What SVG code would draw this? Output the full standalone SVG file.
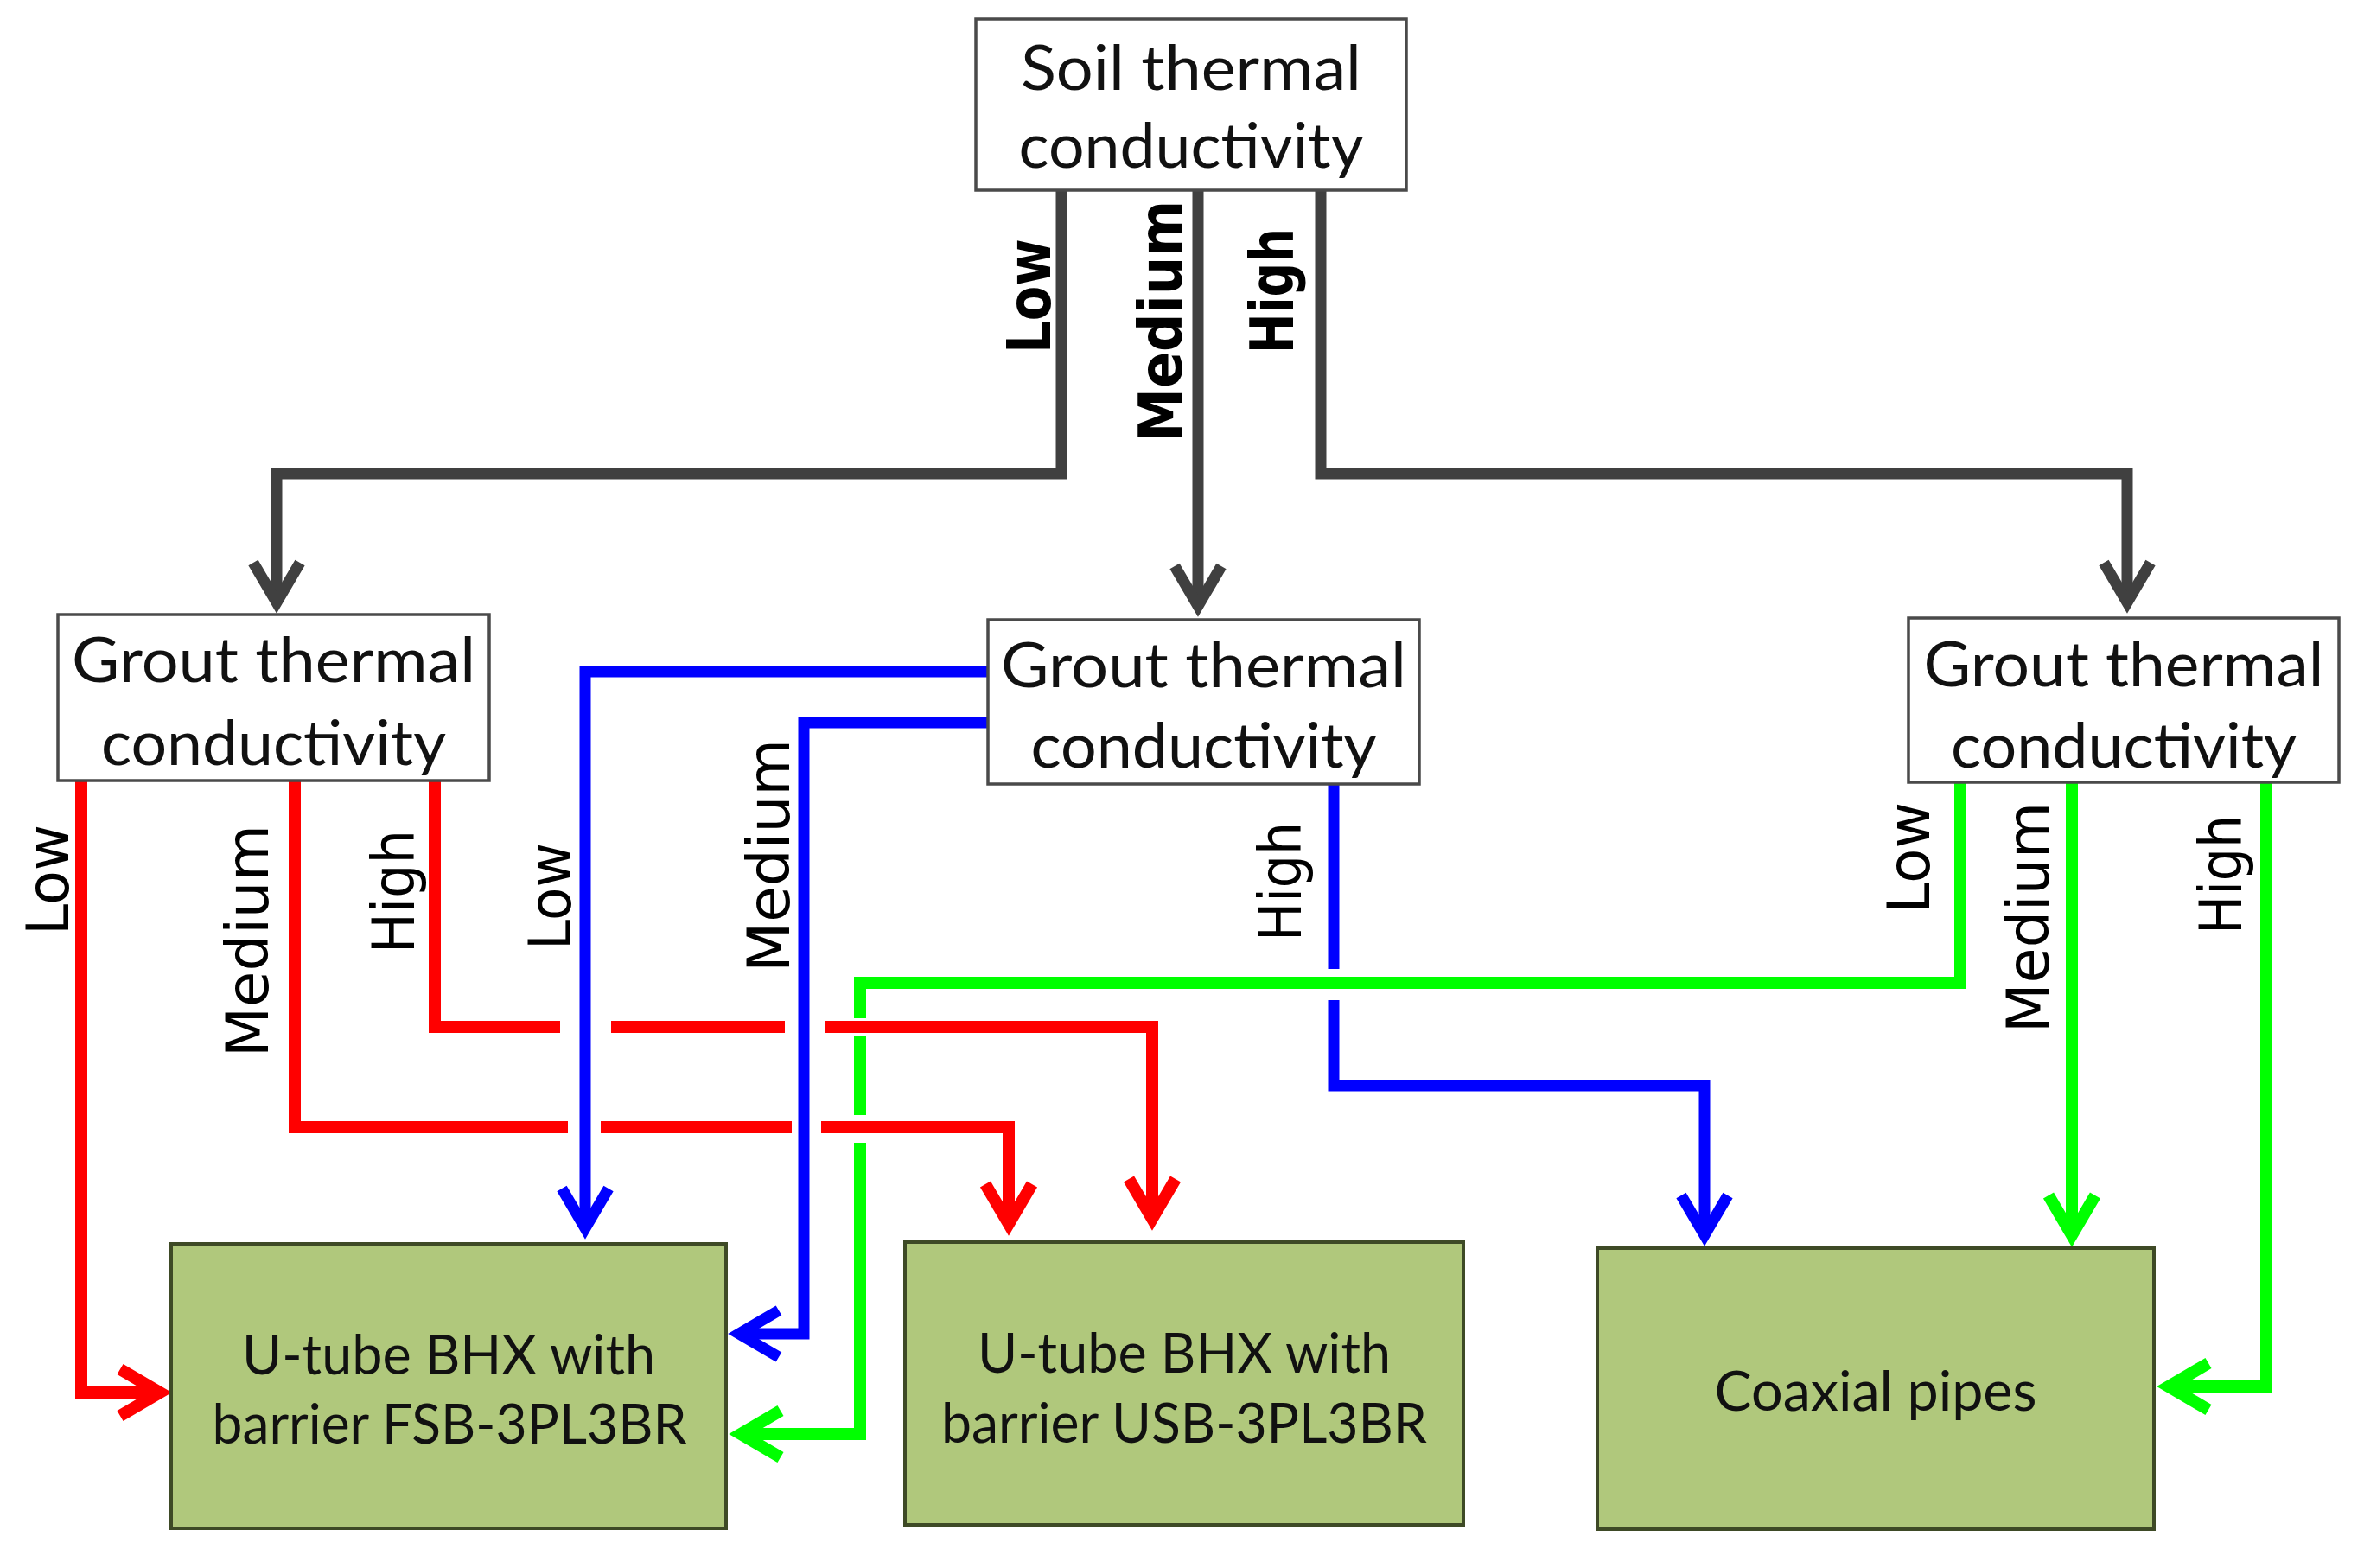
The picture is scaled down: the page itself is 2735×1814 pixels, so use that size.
<svg xmlns="http://www.w3.org/2000/svg" width="2735" height="1814" viewBox="0 0 2735 1814">
<style>
.box{fill:#ffffff;stroke:#4a4a4a;stroke-width:3.5}
.res{fill:#b0c87c;stroke:#3e4a26;stroke-width:4}
.bt{font-family:Lato,"Liberation Sans",sans-serif;font-size:72px;fill:#111;text-anchor:middle}
.rt{font-family:Lato,"Liberation Sans",sans-serif;font-size:64px;fill:#111;text-anchor:middle}
.lb{font-family:"DejaVu Sans","Liberation Sans",sans-serif;font-size:70px;font-weight:bold;fill:#000}
.lr{font-family:"DejaVu Sans","Liberation Sans",sans-serif;font-size:68px;fill:#000}
.c{fill:none;stroke-linejoin:miter;stroke-linecap:butt}
.gy{stroke:#404040;stroke-width:13}
.rd{stroke:#ff0000;stroke-width:14}
.bl{stroke:#0000ff;stroke-width:13}
.gn{stroke:#00ff00;stroke-width:14}
</style>
<defs>
<marker id="aGy" markerUnits="userSpaceOnUse" markerWidth="100" markerHeight="100" refX="0" refY="0" orient="auto" overflow="visible"><path d="M-46,-27 L0,0 L-46,27" fill="none" stroke="#404040" stroke-width="13"/></marker>
<marker id="aRd" markerUnits="userSpaceOnUse" markerWidth="100" markerHeight="100" refX="0" refY="0" orient="auto" overflow="visible"><path d="M-46,-27 L0,0 L-46,27" fill="none" stroke="#ff0000" stroke-width="14"/></marker>
<marker id="aBl" markerUnits="userSpaceOnUse" markerWidth="100" markerHeight="100" refX="0" refY="0" orient="auto" overflow="visible"><path d="M-46,-27 L0,0 L-46,27" fill="none" stroke="#0000ff" stroke-width="13"/></marker>
<marker id="aGn" markerUnits="userSpaceOnUse" markerWidth="100" markerHeight="100" refX="0" refY="0" orient="auto" overflow="visible"><path d="M-46,-27 L0,0 L-46,27" fill="none" stroke="#00ff00" stroke-width="14"/></marker>
</defs>
<rect width="2735" height="1814" fill="#ffffff"/>

<g id="connectors">
  <!-- soil to grout (gray) -->
  <path class="c gy" d="M1228,220 V548 H320 V697" marker-end="url(#aGy)"/>
  <path class="c gy" d="M1386,220 V701" marker-end="url(#aGy)"/>
  <path class="c gy" d="M1528,220 V548 H2461 V697" marker-end="url(#aGy)"/>
  <!-- green (right grout) -->
  <path class="c gn" d="M2268,905 V1137 H995 V1178"/>
  <path class="c gn" d="M995,1198 V1290"/>
  <path class="c gn" d="M995,1322 V1659 H857" marker-end="url(#aGn)"/>
  <path class="c gn" d="M2397,905 V1429" marker-end="url(#aGn)"/>
  <path class="c gn" d="M2622,905 V1604 H2509" marker-end="url(#aGn)"/>
  <!-- red (left grout) -->
  <path class="c rd" d="M94,903 V1611 H185" marker-end="url(#aRd)"/>
  <path class="c rd" d="M341,903 V1304 H657"/>
  <path class="c rd" d="M695,1304 H916"/>
  <path class="c rd" d="M950,1304 H1167 V1416" marker-end="url(#aRd)"/>
  <path class="c rd" d="M503,903 V1188 H648"/>
  <path class="c rd" d="M707,1188 H908"/>
  <path class="c rd" d="M954,1188 H1333 V1410" marker-end="url(#aRd)"/>
  <!-- blue (middle grout) -->
  <path class="c bl" d="M1143,777 H677 V1421" marker-end="url(#aBl)"/>
  <path class="c bl" d="M1143,836 H930 V1543 H855" marker-end="url(#aBl)"/>
  <path class="c bl" d="M1543,907 V1121"/>
  <path class="c bl" d="M1543,1157 V1256 H1972 V1429" marker-end="url(#aBl)"/>
  <!-- labels -->
  <text class="lb" transform="translate(1215,409) rotate(-90)" textLength="133" lengthAdjust="spacingAndGlyphs">Low</text>
  <text class="lb" transform="translate(1367,511) rotate(-90)" textLength="279" lengthAdjust="spacingAndGlyphs">Medium</text>
  <text class="lb" transform="translate(1496,409) rotate(-90)" textLength="145" lengthAdjust="spacingAndGlyphs">High</text>
  <text class="lr" transform="translate(79,1082) rotate(-90)" textLength="128" lengthAdjust="spacingAndGlyphs">Low</text>
  <text class="lr" transform="translate(310,1223) rotate(-90)" textLength="269" lengthAdjust="spacingAndGlyphs">Medium</text>
  <text class="lr" transform="translate(479,1103) rotate(-90)" textLength="143" lengthAdjust="spacingAndGlyphs">High</text>
  <text class="lr" transform="translate(660,1099) rotate(-90)" textLength="124" lengthAdjust="spacingAndGlyphs">Low</text>
  <text class="lr" transform="translate(913,1125) rotate(-90)" textLength="270" lengthAdjust="spacingAndGlyphs">Medium</text>
  <text class="lr" transform="translate(1505,1089) rotate(-90)" textLength="138" lengthAdjust="spacingAndGlyphs">High</text>
  <text class="lr" transform="translate(2232,1057) rotate(-90)" textLength="129" lengthAdjust="spacingAndGlyphs">Low</text>
  <text class="lr" transform="translate(2370,1195) rotate(-90)" textLength="267" lengthAdjust="spacingAndGlyphs">Medium</text>
  <text class="lr" transform="translate(2593,1081) rotate(-90)" textLength="138" lengthAdjust="spacingAndGlyphs">High</text>
</g>

<g id="soil">
  <rect class="box" x="1129" y="22" width="498" height="198"/>
  <text class="bt" x="1378" y="104" textLength="394" lengthAdjust="spacingAndGlyphs">Soil thermal</text>
  <text class="bt" x="1378" y="194" textLength="399" lengthAdjust="spacingAndGlyphs">conductivity</text>
</g>
<g id="grout-left">
  <rect class="box" x="67" y="711" width="499" height="192"/>
  <text class="bt" x="316.5" y="789" textLength="467" lengthAdjust="spacingAndGlyphs">Grout thermal</text>
  <text class="bt" x="316.5" y="885" textLength="399" lengthAdjust="spacingAndGlyphs">conductivity</text>
</g>
<g id="grout-middle">
  <rect class="box" x="1143" y="717" width="499" height="190"/>
  <text class="bt" x="1392.5" y="795" textLength="469" lengthAdjust="spacingAndGlyphs">Grout thermal</text>
  <text class="bt" x="1392.5" y="888" textLength="400" lengthAdjust="spacingAndGlyphs">conductivity</text>
</g>
<g id="grout-right">
  <rect class="box" x="2208" y="715" width="498" height="190"/>
  <text class="bt" x="2457" y="794" textLength="463" lengthAdjust="spacingAndGlyphs">Grout thermal</text>
  <text class="bt" x="2457" y="888" textLength="400" lengthAdjust="spacingAndGlyphs">conductivity</text>
</g>
<g id="fsb">
  <rect class="res" x="198" y="1439" width="642" height="329"/>
  <text class="rt" x="519" y="1590" textLength="478" lengthAdjust="spacingAndGlyphs">U-tube BHX with</text>
  <text class="rt" x="520" y="1670" textLength="549" lengthAdjust="spacingAndGlyphs">barrier FSB-3PL3BR</text>
</g>
<g id="usb">
  <rect class="res" x="1047" y="1437" width="646" height="327"/>
  <text class="rt" x="1370" y="1588" textLength="478" lengthAdjust="spacingAndGlyphs">U-tube BHX with</text>
  <text class="rt" x="1370" y="1669" textLength="562" lengthAdjust="spacingAndGlyphs">barrier USB-3PL3BR</text>
</g>
<g id="coaxial">
  <rect class="res" x="1848" y="1444" width="644" height="325"/>
  <text class="rt" x="2170" y="1632" textLength="373" lengthAdjust="spacingAndGlyphs">Coaxial pipes</text>
</g>
</svg>
